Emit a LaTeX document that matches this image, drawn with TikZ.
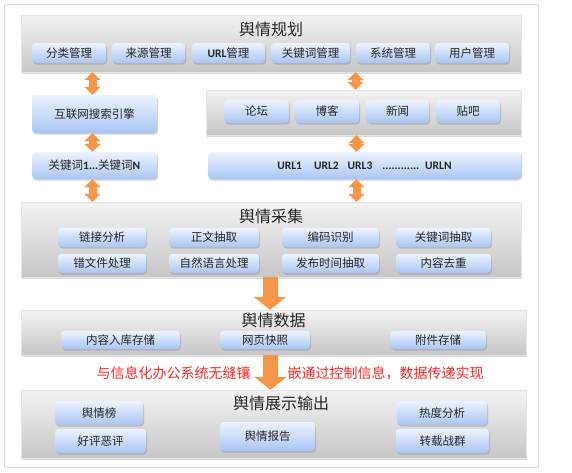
\documentclass[tikz,border=0pt]{standalone}
\usepackage{fontspec}
\setmainfont{Noto Sans CJK SC}
\newfontfamily\lat{Carlito}
\usetikzlibrary{shadows,arrows.meta}
\definecolor{org}{HTML}{F79646}
\definecolor{bxtop}{HTML}{EDF3FE}
\definecolor{bxbot}{HTML}{A9C5F4}
\definecolor{pntop}{HTML}{F3F3F3}
\definecolor{pnbot}{HTML}{C6C6C6}
\definecolor{redt}{HTML}{FF2525}
\begin{document}
\begin{tikzpicture}[x=1pt,y=-1pt,
 panel/.style={rectangle, draw=black!10, top color=pntop, bottom color=pnbot,
   drop shadow={shadow xshift=1pt,shadow yshift=-1.5pt,opacity=.3}, inner sep=0pt},
 sub/.style={rectangle, rounded corners=3.5pt, top color=bxtop, bottom color=bxbot,
   drop shadow={shadow xshift=1pt,shadow yshift=-1.5pt,opacity=.35}, inner sep=0pt,
   font=\fontsize{11.5}{12}\selectfont, text=black!85},
 ttl/.style={font=\fontsize{16}{18}\selectfont, text=black!85, inner sep=0pt},
 dbl/.style={draw=org, line width=8pt, {Triangle[width=16pt,length=8pt]}-{Triangle[width=16pt,length=8pt]}},
 big/.style={draw=org, line width=15pt, -{Triangle[width=32pt,length=13pt]}},
 redtxt/.style={text=redt, font=\fontsize{14}{16}\selectfont, inner sep=0pt}
]
\useasboundingbox (0,0) rectangle (572,472);
\fill[white] (0,0) rectangle (572,472);
\draw[draw=black!14, line width=1pt] (4,4) rectangle (538,467);

% ---- panel 1
\node[panel, minimum width=500pt, minimum height=57pt] (P1) at (271,43.5) {};
\node[ttl] (t1) at (271,29) {舆情规划};
\node[sub, minimum width=74pt, minimum height=20pt] (a1) at (69,53) {分类管理};
\node[sub, minimum width=73pt, minimum height=20pt] (a2) at (148.5,53) {来源管理};
\node[sub, minimum width=73pt, minimum height=20pt] (a3) at (228.5,53) {{\lat\bfseries URL}管理};
\node[sub, minimum width=79pt, minimum height=20pt] (a4) at (310.5,53) {关键词管理};
\node[sub, minimum width=74pt, minimum height=20pt] (a5) at (393,53) {系统管理};
\node[sub, minimum width=74pt, minimum height=20pt] (a6) at (472,53) {用户管理};

% ---- left column
\node[sub, minimum width=125pt, minimum height=38pt] (se) at (94.5,114) {互联网搜索引擎};
\node[sub, minimum width=125pt, minimum height=27pt] (kw) at (94.5,165.5) {关键词{\lat\bfseries 1...}关键词{\lat\bfseries N}};

% ---- right column
\node[panel, minimum width=315pt, minimum height=45pt] (P2) at (363.5,112.5) {};
\node[sub, minimum width=65pt, minimum height=23pt] (f1) at (256.5,111.5) {论坛};
\node[sub, minimum width=64pt, minimum height=23pt] (f2) at (327,111.5) {博客};
\node[sub, minimum width=63pt, minimum height=23pt] (f3) at (397.5,111.5) {新闻};
\node[sub, minimum width=64pt, minimum height=23pt] (f4) at (468,111.5) {贴吧};
\node[sub, minimum width=313pt, minimum height=27pt, font=\lat\bfseries\fontsize{11.5}{12}\selectfont] (url) at (364.5,165.5)
  {URL1\hspace{12pt}URL2\hspace{9pt}URL3\hspace{10pt}............\hspace{6pt}URLN};

% ---- panel 3
\node[panel, minimum width=500pt, minimum height=75pt] (P3) at (271,239.5) {};
\node[ttl] (t3) at (271,216) {舆情采集};
\node[sub, minimum width=88pt, minimum height=19pt] (c1) at (102,237.5) {链接分析};
\node[sub, minimum width=90pt, minimum height=19pt] (c2) at (214,237.5) {正文抽取};
\node[sub, minimum width=97pt, minimum height=19pt] (c3) at (330.5,237.5) {编码识别};
\node[sub, minimum width=95pt, minimum height=19pt] (c4) at (443.5,237.5) {关键词抽取};
\node[sub, minimum width=88pt, minimum height=19pt] (d1) at (102,263.5) {错文件处理};
\node[sub, minimum width=90pt, minimum height=19pt] (d2) at (214,263.5) {自然语言处理};
\node[sub, minimum width=97pt, minimum height=19pt] (d3) at (330.5,263.5) {发布时间抽取};
\node[sub, minimum width=95pt, minimum height=19pt] (d4) at (443.5,263.5) {内容去重};

% ---- panel 4
\node[panel, minimum width=505pt, minimum height=45pt] (P4) at (273.5,332.5) {};
\node[ttl] (t4) at (273.5,320) {舆情数据};
\node[sub, minimum width=119pt, minimum height=18pt] (b1) at (120.5,340) {内容入库存储};
\node[sub, minimum width=90pt, minimum height=18pt] (b2) at (265,340) {网页快照};
\node[sub, minimum width=96pt, minimum height=18pt] (b3) at (438,340) {附件存储};

% ---- red text
\node[redtxt] (r1) at (173.5,373) {与信息化办公系统无缝镶};
\node[redtxt] (r2) at (385.5,373) {嵌通过控制信息，数据传递实现};

% ---- panel 5
\node[panel, minimum width=505pt, minimum height=68pt] (P5) at (273.5,424) {};
\node[ttl] (t5) at (281,403) {舆情展示输出};
\node[sub, minimum width=88pt, minimum height=24pt] (e1) at (99,413) {舆情榜};
\node[sub, minimum width=91pt, minimum height=24pt] (e2) at (100.5,441) {好评恶评};
\node[sub, minimum width=95pt, minimum height=29pt] (e3) at (267.5,436.5) {舆情报告};
\node[sub, minimum width=90pt, minimum height=24pt] (e4) at (442,413) {热度分析};
\node[sub, minimum width=93pt, minimum height=24pt] (e5) at (442.5,441) {转载战群};

% ---- arrows
\draw[dbl] ([xshift=-2pt]se.north) -- ([xshift=-2pt]se.north |- P1.south);
\draw[dbl] ([xshift=-2pt]kw.north) -- ([xshift=-2pt]se.south);
\draw[dbl] ([xshift=-2pt]kw.south) -- ([xshift=-2pt]kw.south |- P3.north);
\draw[dbl] ([xshift=-8pt]P2.north) -- ([xshift=-8pt]P2.north |- P1.south);
\draw[dbl] ([xshift=-8pt]url.north) -- ([xshift=-8pt]url.north |- P2.south);
\draw[dbl] ([xshift=-8pt]url.south) -- ([xshift=-8pt]url.south |- P3.north);
\draw[big] ([xshift=-1pt]P3.south) -- ([xshift=-1pt]P3.south |- P4.north);
\draw[big] ([xshift=-3pt]P4.south) -- ([xshift=-3pt]P4.south |- P5.north);
\end{tikzpicture}
\end{document}
